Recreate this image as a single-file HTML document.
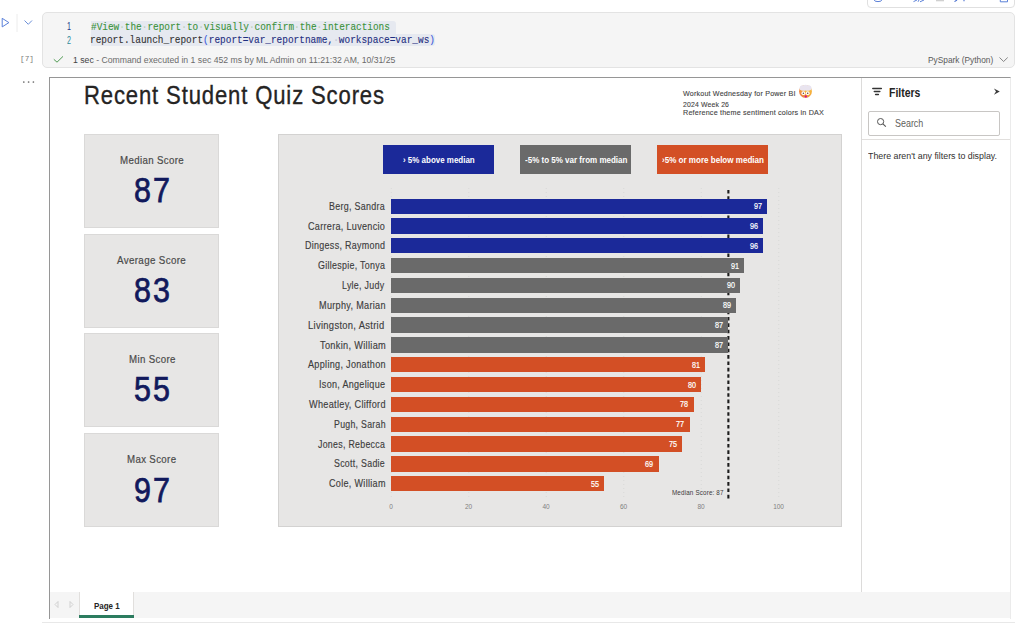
<!DOCTYPE html>
<html><head><meta charset="utf-8"><style>
html,body{margin:0;padding:0;width:1024px;height:627px;overflow:hidden;background:#fff;position:relative;font-family:'Liberation Sans', sans-serif;}
</style></head><body>
<div style="position:absolute;left:41.5px;top:11.5px;width:973.0px;height:56.5px;background:#f5f5f5;border:1px solid #e3e3e3;border-radius:5px;box-sizing:border-box;"></div>
<div style="position:absolute;left:866.5px;top:-10px;width:148.0px;height:18px;background:#fff;border:1px solid #e0e0e0;border-radius:4px;box-sizing:border-box;"></div>
<div style="position:absolute;left:90.75px;top:21.2px;width:304.75px;height:13.3px;background:#e6e9f0;border-radius:0 3px 0 0;"></div>
<div style="position:absolute;left:90.75px;top:34.4px;width:343.75px;height:12.100000000000001px;background:#e6e9f0;border-radius:0 3px 3px 0;"></div>
<svg style="position:absolute;left:0;top:0" width="60" height="100"><circle cx="23.8" cy="82" r="0.85" fill="#666"/><circle cx="28.6" cy="82" r="0.85" fill="#666"/><circle cx="33.4" cy="82" r="0.85" fill="#666"/></svg>
<div style="position:absolute;left:49px;top:77px;width:961.5px;height:541.5px;border:1px solid #969696;border-right-color:#ebebeb;border-bottom:none;box-sizing:border-box;background:#fff;"></div>
<div style="position:absolute;left:50px;top:592px;width:960px;height:26.200000000000045px;background:#f5f5f5;"></div>
<div style="position:absolute;left:78.75px;top:592px;width:55.349999999999994px;height:26.200000000000045px;background:#fff;border-left:1px solid #e1dfdd;border-right:1px solid #e1dfdd;box-sizing:border-box;"></div>
<div style="position:absolute;left:78.75px;top:615.1px;width:55.349999999999994px;height:3.1000000000000227px;background:#2c7c5f;"></div>
<div style="position:absolute;left:42px;top:622px;width:973px;height:1px;background:#e8e8e8;"></div>
<div style="position:absolute;left:84px;top:134px;width:134.5px;height:94.30000000000001px;background:#e7e6e5;border:1px solid #dad9d8;box-sizing:border-box;"></div>
<div style="position:absolute;left:84px;top:233.6px;width:134.5px;height:94.00000000000003px;background:#e7e6e5;border:1px solid #dad9d8;box-sizing:border-box;"></div>
<div style="position:absolute;left:84px;top:333px;width:134.5px;height:94.30000000000001px;background:#e7e6e5;border:1px solid #dad9d8;box-sizing:border-box;"></div>
<div style="position:absolute;left:84px;top:433.2px;width:134.5px;height:93.40000000000003px;background:#e7e6e5;border:1px solid #dad9d8;box-sizing:border-box;"></div>
<div style="position:absolute;left:278px;top:133.8px;width:563.6px;height:392.8px;background:#e7e6e5;border:1px solid #d3d2d1;box-sizing:border-box;"></div>
<div style="position:absolute;left:383px;top:144.8px;width:111px;height:29.099999999999994px;background:#1b2999;"></div>
<div style="position:absolute;left:520px;top:144.8px;width:111px;height:29.099999999999994px;background:#6a6a6a;"></div>
<div style="position:absolute;left:657px;top:144.8px;width:111px;height:29.099999999999994px;background:#d34f25;"></div>
<svg style="position:absolute;left:0;top:0" width="1024" height="627"><line x1="391.30" y1="188" x2="391.30" y2="500" stroke="#d6d5d4" stroke-width="0.8" stroke-dasharray="1 3"/></svg>
<svg style="position:absolute;left:0;top:0" width="1024" height="627"><line x1="468.79" y1="188" x2="468.79" y2="500" stroke="#d6d5d4" stroke-width="0.8" stroke-dasharray="1 3"/></svg>
<svg style="position:absolute;left:0;top:0" width="1024" height="627"><line x1="546.28" y1="188" x2="546.28" y2="500" stroke="#d6d5d4" stroke-width="0.8" stroke-dasharray="1 3"/></svg>
<svg style="position:absolute;left:0;top:0" width="1024" height="627"><line x1="623.77" y1="188" x2="623.77" y2="500" stroke="#d6d5d4" stroke-width="0.8" stroke-dasharray="1 3"/></svg>
<svg style="position:absolute;left:0;top:0" width="1024" height="627"><line x1="701.26" y1="188" x2="701.26" y2="500" stroke="#d6d5d4" stroke-width="0.8" stroke-dasharray="1 3"/></svg>
<svg style="position:absolute;left:0;top:0" width="1024" height="627"><line x1="778.75" y1="188" x2="778.75" y2="500" stroke="#d6d5d4" stroke-width="0.8" stroke-dasharray="1 3"/></svg>
<svg style="position:absolute;left:0;top:0" width="1024" height="627"><line x1="728.38" y1="190" x2="728.38" y2="498.5" stroke="#1c1c1c" stroke-width="2.1" stroke-dasharray="3.6 2.75"/></svg>
<div style="position:absolute;left:391.3px;top:198.5px;width:375.82650000000007px;height:15.300000000000011px;background:#1b2999;"></div>
<div style="position:absolute;left:391.3px;top:218.32999999999998px;width:371.95199999999994px;height:15.300000000000011px;background:#1b2999;"></div>
<div style="position:absolute;left:391.3px;top:238.16px;width:371.95199999999994px;height:15.300000000000011px;background:#1b2999;"></div>
<div style="position:absolute;left:391.3px;top:257.99px;width:352.5795px;height:15.300000000000011px;background:#6a6a6a;"></div>
<div style="position:absolute;left:391.3px;top:277.82px;width:348.705px;height:15.300000000000011px;background:#6a6a6a;"></div>
<div style="position:absolute;left:391.3px;top:297.65px;width:344.8305px;height:15.300000000000011px;background:#6a6a6a;"></div>
<div style="position:absolute;left:391.3px;top:317.48px;width:337.08149999999995px;height:15.300000000000011px;background:#6a6a6a;"></div>
<div style="position:absolute;left:391.3px;top:337.31px;width:337.08149999999995px;height:15.300000000000011px;background:#6a6a6a;"></div>
<div style="position:absolute;left:391.3px;top:357.14px;width:313.8345px;height:15.300000000000011px;background:#d34f25;"></div>
<div style="position:absolute;left:391.3px;top:376.96999999999997px;width:309.96px;height:15.300000000000011px;background:#d34f25;"></div>
<div style="position:absolute;left:391.3px;top:396.79999999999995px;width:302.21099999999996px;height:15.300000000000011px;background:#d34f25;"></div>
<div style="position:absolute;left:391.3px;top:416.63px;width:298.33650000000006px;height:15.300000000000011px;background:#d34f25;"></div>
<div style="position:absolute;left:391.3px;top:436.46px;width:290.58750000000003px;height:15.300000000000011px;background:#d34f25;"></div>
<div style="position:absolute;left:391.3px;top:456.28999999999996px;width:267.34049999999996px;height:15.300000000000011px;background:#d34f25;"></div>
<div style="position:absolute;left:391.3px;top:476.12px;width:213.09750000000003px;height:15.300000000000011px;background:#d34f25;"></div>
<div style="position:absolute;left:861px;top:78px;width:1.2999999999999545px;height:514px;background:#dcdbda;"></div>
<div style="position:absolute;left:868.2px;top:110.7px;width:131.79999999999995px;height:25.60000000000001px;border:1px solid #c8c6c4;border-radius:2px;box-sizing:border-box;background:#fff;"></div>
<div style="position:absolute;left:862px;top:139px;width:147.5px;height:1px;background:#e1dfdd;"></div>

<svg style="position:absolute;left:0;top:0" width="1024" height="627" viewBox="0 0 1024 627">
 <path d="M2.2 18.3 L8.9 22.6 L2.2 26.9 Z" fill="none" stroke="#5a80da" stroke-width="1" stroke-linejoin="round"/>
 <line x1="17" y1="14" x2="17" y2="32" stroke="#ececec" stroke-width="1"/>
 <path d="M24.5 20.5 L28.3 24.3 L32 20.5" fill="none" stroke="#6b8fd8" stroke-width="1"/>
 <path d="M53.8 59.3 L57 62.2 L63 56.4" fill="none" stroke="#4f9a52" stroke-width="1"/>
 <path d="M999.5 57.5 L1003.6 61.5 L1007.7 57.5" fill="none" stroke="#777" stroke-width="0.9"/>
 <!-- toolbar icon bottoms -->
 <path d="M874.3 0 Q874.3 1.6 878 1.6 Q881.7 1.6 881.7 0" fill="none" stroke="#5b80d8" stroke-width="1"/>
 <path d="M913.5 1.6 L917 0 M918 1.8 L919 0 M920 1.8 L924 0" fill="none" stroke="#5b80d8" stroke-width="1"/>
 <rect x="936" y="0" width="8" height="1.3" fill="#d0d0d0"/>
 <path d="M954.5 1.6 L957 0 M964 0 L964 1.2" fill="none" stroke="#4a70d0" stroke-width="1.1"/>
 <path d="M1000.3 0 L1000.3 1.8 L1007.5 1.8 L1007.5 0" fill="none" stroke="#5b80d8" stroke-width="1"/>
 <!-- filter icon -->
 <line x1="872.8" y1="88.6" x2="881.3" y2="88.6" stroke="#333" stroke-width="1.5" stroke-linecap="round"/>
 <line x1="874.3" y1="91.6" x2="879.8" y2="91.6" stroke="#333" stroke-width="1.5" stroke-linecap="round"/>
 <line x1="875.6" y1="94.5" x2="878.4" y2="94.5" stroke="#333" stroke-width="1.5" stroke-linecap="round"/>
 <!-- >> -->
 <path d="M993.9 88.6 L999.8 91.6 L993.9 94.7 L996 91.6 Z" fill="#3a3a3a"/>
 <!-- search icon -->
 <circle cx="880.6" cy="121.6" r="3.1" fill="none" stroke="#555" stroke-width="1"/>
 <line x1="882.9" y1="123.9" x2="885.8" y2="126.7" stroke="#555" stroke-width="1.1"/>
 <!-- tab arrows -->
 <path d="M58 601.5 L55 604.5 L58 607.5 Z" fill="none" stroke="#c8c8c8" stroke-width="0.8"/>
 <path d="M70 601.5 L73 604.5 L70 607.5 Z" fill="none" stroke="#c8c8c8" stroke-width="0.8"/>
 <!-- emoji -->
 <defs><radialGradient id="fg" cx="0.7" cy="0.3" r="0.8"><stop offset="0" stop-color="#f8c444"/><stop offset="0.6" stop-color="#f4a93a"/><stop offset="1" stop-color="#ec7a45"/></radialGradient></defs>
 <g>
  <circle cx="805.5" cy="91.4" r="6.4" fill="url(#fg)"/>
  <path d="M799.6 89.5 C799 86.5 801 85 803 85.3 C804.5 84.6 806.8 84.6 808 85.3 C810.2 85 812.2 86.6 811.5 89.5 C810 90.6 807.5 91.2 805.5 90.6 C803.5 91.2 801 90.6 799.6 89.5 Z" fill="#e9e4ef"/>
  <circle cx="803.4" cy="93.2" r="1.9" fill="#fff"/><circle cx="807.7" cy="93.2" r="1.9" fill="#fff"/>
  <circle cx="803.4" cy="93.3" r="0.8" fill="#6b4a3a"/><circle cx="807.7" cy="93.3" r="0.8" fill="#6b4a3a"/>
  <ellipse cx="805.8" cy="96.4" rx="1.1" ry="1.2" fill="#d0108a"/>
 </g>
</svg>

<span style="position:absolute;left:66.90px;top:22.20px;white-space:nowrap;font-family:'Liberation Sans', sans-serif;font-size:10px;font-weight:400;line-height:10px;color:#1d3a8a;transform:scaleX(0.7167);transform-origin:0 0;">1</span>
<span style="position:absolute;left:66.90px;top:35.60px;white-space:nowrap;font-family:'Liberation Sans', sans-serif;font-size:10px;font-weight:400;line-height:10px;color:#2f8a9a;transform:scaleX(0.7167);transform-origin:0 0;">2</span>
<span style="position:absolute;left:91.00px;top:23.00px;white-space:nowrap;font-family:'Liberation Mono', monospace;font-size:10px;font-weight:400;line-height:10px;color:#3a923a;transform:scaleX(0.9392);transform-origin:0 0;-webkit-text-stroke:0.1px currentColor;">#View<span style="color:#b9d2b9">·</span>the<span style="color:#b9d2b9">·</span>report<span style="color:#b9d2b9">·</span>to<span style="color:#b9d2b9">·</span>visually<span style="color:#b9d2b9">·</span>confirm<span style="color:#b9d2b9">·</span>the<span style="color:#b9d2b9">·</span>interactions</span>
<span style="position:absolute;left:90.06px;top:36.40px;white-space:nowrap;font-family:'Liberation Mono', monospace;font-size:10px;font-weight:400;line-height:10px;color:#333;transform:scaleX(0.9422);transform-origin:0 0;-webkit-text-stroke:0.1px currentColor;">report.launch_report<span style="color:#3b5bdb">(</span><span style="color:#1f2f80">report=var_reportname,<span style="color:#c3c8d6">·</span>workspace=var_ws</span><span style="color:#3b5bdb">)</span></span>
<span style="position:absolute;left:20.23px;top:55.40px;white-space:nowrap;font-family:'Liberation Mono', monospace;font-size:8px;font-weight:400;line-height:8px;color:#7a7a7a;transform:scaleX(0.9681);transform-origin:0 0;">[7]</span>
<span style="position:absolute;left:72.60px;top:55.00px;white-space:nowrap;font-family:'Liberation Sans', sans-serif;font-size:9.6px;font-weight:400;line-height:9.6px;color:#444;transform:scaleX(0.9037);transform-origin:0 0;">1 sec<span style="color:#6b6b6b"> - Command executed in 1 sec 452 ms by ML Admin on 11:21:32 AM, 10/31/25</span></span>
<span style="position:absolute;left:928.00px;top:55.00px;white-space:nowrap;font-family:'Liberation Sans', sans-serif;font-size:9.6px;font-weight:400;line-height:9.6px;color:#5a5a5a;transform:scaleX(0.8668);transform-origin:0 0;">PySpark (Python)</span>
<span style="position:absolute;left:94.00px;top:601.60px;white-space:nowrap;font-family:'Liberation Sans', sans-serif;font-size:9.3px;font-weight:700;line-height:9.3px;color:#252423;transform:scaleX(0.8556);transform-origin:0 0;">Page 1</span>
<span style="position:absolute;left:83.68px;top:83.20px;white-space:nowrap;font-family:'Liberation Sans', sans-serif;font-size:25.6px;font-weight:400;line-height:25.6px;color:#252423;letter-spacing:1.0px;transform:scaleX(0.8623);transform-origin:0 0;-webkit-text-stroke:0.35px #252423;">Recent Student Quiz Scores</span>
<span style="position:absolute;left:682.80px;top:90.10px;white-space:nowrap;font-family:'Liberation Sans', sans-serif;font-size:8px;font-weight:400;line-height:8px;color:#444;letter-spacing:0.2px;transform:scaleX(0.8920);transform-origin:0 0;-webkit-text-stroke:0.12px #444;">Workout Wednesday for Power BI</span>
<span style="position:absolute;left:682.80px;top:100.90px;white-space:nowrap;font-family:'Liberation Sans', sans-serif;font-size:8px;font-weight:400;line-height:8px;color:#444;letter-spacing:0.2px;transform:scaleX(0.8562);transform-origin:0 0;-webkit-text-stroke:0.12px #444;">2024 Week 26</span>
<span style="position:absolute;left:682.80px;top:109.30px;white-space:nowrap;font-family:'Liberation Sans', sans-serif;font-size:8px;font-weight:400;line-height:8px;color:#444;letter-spacing:0.2px;transform:scaleX(0.8994);transform-origin:0 0;-webkit-text-stroke:0.12px #444;">Reference theme sentiment colors in DAX</span>
<span style="position:absolute;left:120.00px;top:155.10px;white-space:nowrap;font-family:'Liberation Sans', sans-serif;font-size:11px;font-weight:400;line-height:11px;color:#4a4a4a;letter-spacing:0.4px;transform:scaleX(0.8801);transform-origin:0 0;-webkit-text-stroke:0.2px #4a4a4a;">Median Score</span>
<span style="position:absolute;left:133.92px;top:173.30px;white-space:nowrap;font-family:'Liberation Sans', sans-serif;font-size:34.5px;font-weight:400;line-height:34.5px;color:#11195c;transform:scaleX(0.8824);transform-origin:0 0;-webkit-text-stroke:0.75px #11195c;">8</span>
<span style="position:absolute;left:153.02px;top:173.30px;white-space:nowrap;font-family:'Liberation Sans', sans-serif;font-size:34.5px;font-weight:400;line-height:34.5px;color:#11195c;transform:scaleX(0.8824);transform-origin:0 0;-webkit-text-stroke:0.75px #11195c;">7</span>
<span style="position:absolute;left:117.30px;top:254.70px;white-space:nowrap;font-family:'Liberation Sans', sans-serif;font-size:11px;font-weight:400;line-height:11px;color:#4a4a4a;letter-spacing:0.4px;transform:scaleX(0.8894);transform-origin:0 0;-webkit-text-stroke:0.2px #4a4a4a;">Average Score</span>
<span style="position:absolute;left:133.92px;top:272.90px;white-space:nowrap;font-family:'Liberation Sans', sans-serif;font-size:34.5px;font-weight:400;line-height:34.5px;color:#11195c;transform:scaleX(0.8824);transform-origin:0 0;-webkit-text-stroke:0.75px #11195c;">8</span>
<span style="position:absolute;left:153.02px;top:272.90px;white-space:nowrap;font-family:'Liberation Sans', sans-serif;font-size:34.5px;font-weight:400;line-height:34.5px;color:#11195c;transform:scaleX(0.8824);transform-origin:0 0;-webkit-text-stroke:0.75px #11195c;">3</span>
<span style="position:absolute;left:128.50px;top:354.10px;white-space:nowrap;font-family:'Liberation Sans', sans-serif;font-size:11px;font-weight:400;line-height:11px;color:#4a4a4a;letter-spacing:0.4px;transform:scaleX(0.8803);transform-origin:0 0;-webkit-text-stroke:0.2px #4a4a4a;">Min Score</span>
<span style="position:absolute;left:133.92px;top:372.30px;white-space:nowrap;font-family:'Liberation Sans', sans-serif;font-size:34.5px;font-weight:400;line-height:34.5px;color:#11195c;transform:scaleX(0.8824);transform-origin:0 0;-webkit-text-stroke:0.75px #11195c;">5</span>
<span style="position:absolute;left:153.02px;top:372.30px;white-space:nowrap;font-family:'Liberation Sans', sans-serif;font-size:34.5px;font-weight:400;line-height:34.5px;color:#11195c;transform:scaleX(0.8824);transform-origin:0 0;-webkit-text-stroke:0.75px #11195c;">5</span>
<span style="position:absolute;left:127.10px;top:454.30px;white-space:nowrap;font-family:'Liberation Sans', sans-serif;font-size:11px;font-weight:400;line-height:11px;color:#4a4a4a;letter-spacing:0.4px;transform:scaleX(0.8786);transform-origin:0 0;-webkit-text-stroke:0.2px #4a4a4a;">Max Score</span>
<span style="position:absolute;left:133.92px;top:472.50px;white-space:nowrap;font-family:'Liberation Sans', sans-serif;font-size:34.5px;font-weight:400;line-height:34.5px;color:#11195c;transform:scaleX(0.8824);transform-origin:0 0;-webkit-text-stroke:0.75px #11195c;">9</span>
<span style="position:absolute;left:153.02px;top:472.50px;white-space:nowrap;font-family:'Liberation Sans', sans-serif;font-size:34.5px;font-weight:400;line-height:34.5px;color:#11195c;transform:scaleX(0.8824);transform-origin:0 0;-webkit-text-stroke:0.75px #11195c;">7</span>
<span style="position:absolute;left:403.30px;top:156.00px;white-space:nowrap;font-family:'Liberation Sans', sans-serif;font-size:9px;font-weight:700;line-height:9px;color:#fff;transform:scaleX(0.8854);transform-origin:0 0;">› 5% above median</span>
<span style="position:absolute;left:525.00px;top:156.00px;white-space:nowrap;font-family:'Liberation Sans', sans-serif;font-size:9px;font-weight:700;line-height:9px;color:#fff;transform:scaleX(0.8906);transform-origin:0 0;">-5% to 5% var from median</span>
<span style="position:absolute;left:662.00px;top:156.00px;white-space:nowrap;font-family:'Liberation Sans', sans-serif;font-size:9px;font-weight:700;line-height:9px;color:#fff;transform:scaleX(0.8941);transform-origin:0 0;">›5% or more below median</span>
<span style="position:absolute;left:389.30px;top:504.20px;white-space:nowrap;font-family:'Liberation Sans', sans-serif;font-size:6.5px;font-weight:400;line-height:6.5px;color:#808080;">0</span>
<span style="position:absolute;left:464.98px;top:504.20px;white-space:nowrap;font-family:'Liberation Sans', sans-serif;font-size:6.5px;font-weight:400;line-height:6.5px;color:#808080;">20</span>
<span style="position:absolute;left:542.47px;top:504.20px;white-space:nowrap;font-family:'Liberation Sans', sans-serif;font-size:6.5px;font-weight:400;line-height:6.5px;color:#808080;">40</span>
<span style="position:absolute;left:619.96px;top:504.20px;white-space:nowrap;font-family:'Liberation Sans', sans-serif;font-size:6.5px;font-weight:400;line-height:6.5px;color:#808080;">60</span>
<span style="position:absolute;left:697.45px;top:504.20px;white-space:nowrap;font-family:'Liberation Sans', sans-serif;font-size:6.5px;font-weight:400;line-height:6.5px;color:#808080;">80</span>
<span style="position:absolute;left:773.14px;top:504.20px;white-space:nowrap;font-family:'Liberation Sans', sans-serif;font-size:6.5px;font-weight:400;line-height:6.5px;color:#808080;">100</span>
<span style="position:absolute;left:329.30px;top:201.70px;white-space:nowrap;font-family:'Liberation Sans', sans-serif;font-size:10.3px;font-weight:400;line-height:10.3px;color:#3d3d3d;letter-spacing:0.35px;transform:scaleX(0.8642);transform-origin:0 0;-webkit-text-stroke:0.15px #3d3d3d;">Berg, Sandra</span>
<span style="position:absolute;left:753.83px;top:202.10px;white-space:nowrap;font-family:'Liberation Sans', sans-serif;font-size:8.4px;font-weight:400;line-height:8.4px;color:#fff;transform:scaleX(0.8594);transform-origin:0 0;-webkit-text-stroke:0.2px #fff;">97</span>
<span style="position:absolute;left:308.20px;top:221.53px;white-space:nowrap;font-family:'Liberation Sans', sans-serif;font-size:10.3px;font-weight:400;line-height:10.3px;color:#3d3d3d;letter-spacing:0.35px;transform:scaleX(0.8790);transform-origin:0 0;-webkit-text-stroke:0.15px #3d3d3d;">Carrera, Luvencio</span>
<span style="position:absolute;left:749.95px;top:221.93px;white-space:nowrap;font-family:'Liberation Sans', sans-serif;font-size:8.4px;font-weight:400;line-height:8.4px;color:#fff;transform:scaleX(0.8594);transform-origin:0 0;-webkit-text-stroke:0.2px #fff;">96</span>
<span style="position:absolute;left:305.00px;top:241.36px;white-space:nowrap;font-family:'Liberation Sans', sans-serif;font-size:10.3px;font-weight:400;line-height:10.3px;color:#3d3d3d;letter-spacing:0.35px;transform:scaleX(0.8680);transform-origin:0 0;-webkit-text-stroke:0.15px #3d3d3d;">Dingess, Raymond</span>
<span style="position:absolute;left:749.95px;top:241.76px;white-space:nowrap;font-family:'Liberation Sans', sans-serif;font-size:8.4px;font-weight:400;line-height:8.4px;color:#fff;transform:scaleX(0.8594);transform-origin:0 0;-webkit-text-stroke:0.2px #fff;">96</span>
<span style="position:absolute;left:318.00px;top:261.19px;white-space:nowrap;font-family:'Liberation Sans', sans-serif;font-size:10.3px;font-weight:400;line-height:10.3px;color:#3d3d3d;letter-spacing:0.35px;transform:scaleX(0.8605);transform-origin:0 0;-webkit-text-stroke:0.15px #3d3d3d;">Gillespie, Tonya</span>
<span style="position:absolute;left:730.58px;top:261.59px;white-space:nowrap;font-family:'Liberation Sans', sans-serif;font-size:8.4px;font-weight:400;line-height:8.4px;color:#fff;transform:scaleX(0.8594);transform-origin:0 0;-webkit-text-stroke:0.2px #fff;">91</span>
<span style="position:absolute;left:342.40px;top:281.02px;white-space:nowrap;font-family:'Liberation Sans', sans-serif;font-size:10.3px;font-weight:400;line-height:10.3px;color:#3d3d3d;letter-spacing:0.35px;transform:scaleX(0.8583);transform-origin:0 0;-webkit-text-stroke:0.15px #3d3d3d;">Lyle, Judy</span>
<span style="position:absolute;left:726.71px;top:281.42px;white-space:nowrap;font-family:'Liberation Sans', sans-serif;font-size:8.4px;font-weight:400;line-height:8.4px;color:#fff;transform:scaleX(0.8594);transform-origin:0 0;-webkit-text-stroke:0.2px #fff;">90</span>
<span style="position:absolute;left:318.60px;top:300.85px;white-space:nowrap;font-family:'Liberation Sans', sans-serif;font-size:10.3px;font-weight:400;line-height:10.3px;color:#3d3d3d;letter-spacing:0.35px;transform:scaleX(0.8824);transform-origin:0 0;-webkit-text-stroke:0.15px #3d3d3d;">Murphy, Marian</span>
<span style="position:absolute;left:722.83px;top:301.25px;white-space:nowrap;font-family:'Liberation Sans', sans-serif;font-size:8.4px;font-weight:400;line-height:8.4px;color:#fff;transform:scaleX(0.8594);transform-origin:0 0;-webkit-text-stroke:0.2px #fff;">89</span>
<span style="position:absolute;left:308.30px;top:320.68px;white-space:nowrap;font-family:'Liberation Sans', sans-serif;font-size:10.3px;font-weight:400;line-height:10.3px;color:#3d3d3d;letter-spacing:0.35px;transform:scaleX(0.9098);transform-origin:0 0;-webkit-text-stroke:0.15px #3d3d3d;">Livingston, Astrid</span>
<span style="position:absolute;left:715.08px;top:321.08px;white-space:nowrap;font-family:'Liberation Sans', sans-serif;font-size:8.4px;font-weight:400;line-height:8.4px;color:#fff;transform:scaleX(0.8594);transform-origin:0 0;-webkit-text-stroke:0.2px #fff;">87</span>
<span style="position:absolute;left:320.10px;top:340.51px;white-space:nowrap;font-family:'Liberation Sans', sans-serif;font-size:10.3px;font-weight:400;line-height:10.3px;color:#3d3d3d;letter-spacing:0.35px;transform:scaleX(0.8934);transform-origin:0 0;-webkit-text-stroke:0.15px #3d3d3d;">Tonkin, William</span>
<span style="position:absolute;left:715.08px;top:340.91px;white-space:nowrap;font-family:'Liberation Sans', sans-serif;font-size:8.4px;font-weight:400;line-height:8.4px;color:#fff;transform:scaleX(0.8594);transform-origin:0 0;-webkit-text-stroke:0.2px #fff;">87</span>
<span style="position:absolute;left:307.50px;top:360.34px;white-space:nowrap;font-family:'Liberation Sans', sans-serif;font-size:10.3px;font-weight:400;line-height:10.3px;color:#3d3d3d;letter-spacing:0.35px;transform:scaleX(0.8809);transform-origin:0 0;-webkit-text-stroke:0.15px #3d3d3d;">Appling, Jonathon</span>
<span style="position:absolute;left:691.83px;top:360.74px;white-space:nowrap;font-family:'Liberation Sans', sans-serif;font-size:8.4px;font-weight:400;line-height:8.4px;color:#fff;transform:scaleX(0.8594);transform-origin:0 0;-webkit-text-stroke:0.2px #fff;">81</span>
<span style="position:absolute;left:318.60px;top:380.17px;white-space:nowrap;font-family:'Liberation Sans', sans-serif;font-size:10.3px;font-weight:400;line-height:10.3px;color:#3d3d3d;letter-spacing:0.35px;transform:scaleX(0.8758);transform-origin:0 0;-webkit-text-stroke:0.15px #3d3d3d;">Ison, Angelique</span>
<span style="position:absolute;left:687.96px;top:380.57px;white-space:nowrap;font-family:'Liberation Sans', sans-serif;font-size:8.4px;font-weight:400;line-height:8.4px;color:#fff;transform:scaleX(0.8594);transform-origin:0 0;-webkit-text-stroke:0.2px #fff;">80</span>
<span style="position:absolute;left:308.60px;top:400.00px;white-space:nowrap;font-family:'Liberation Sans', sans-serif;font-size:10.3px;font-weight:400;line-height:10.3px;color:#3d3d3d;letter-spacing:0.35px;transform:scaleX(0.8864);transform-origin:0 0;-webkit-text-stroke:0.15px #3d3d3d;">Wheatley, Clifford</span>
<span style="position:absolute;left:680.21px;top:400.40px;white-space:nowrap;font-family:'Liberation Sans', sans-serif;font-size:8.4px;font-weight:400;line-height:8.4px;color:#fff;transform:scaleX(0.8594);transform-origin:0 0;-webkit-text-stroke:0.2px #fff;">78</span>
<span style="position:absolute;left:333.50px;top:419.83px;white-space:nowrap;font-family:'Liberation Sans', sans-serif;font-size:10.3px;font-weight:400;line-height:10.3px;color:#3d3d3d;letter-spacing:0.35px;transform:scaleX(0.8489);transform-origin:0 0;-webkit-text-stroke:0.15px #3d3d3d;">Pugh, Sarah</span>
<span style="position:absolute;left:676.34px;top:420.23px;white-space:nowrap;font-family:'Liberation Sans', sans-serif;font-size:8.4px;font-weight:400;line-height:8.4px;color:#fff;transform:scaleX(0.8594);transform-origin:0 0;-webkit-text-stroke:0.2px #fff;">77</span>
<span style="position:absolute;left:318.20px;top:439.66px;white-space:nowrap;font-family:'Liberation Sans', sans-serif;font-size:10.3px;font-weight:400;line-height:10.3px;color:#3d3d3d;letter-spacing:0.35px;transform:scaleX(0.8530);transform-origin:0 0;-webkit-text-stroke:0.15px #3d3d3d;">Jones, Rebecca</span>
<span style="position:absolute;left:668.59px;top:440.06px;white-space:nowrap;font-family:'Liberation Sans', sans-serif;font-size:8.4px;font-weight:400;line-height:8.4px;color:#fff;transform:scaleX(0.8594);transform-origin:0 0;-webkit-text-stroke:0.2px #fff;">75</span>
<span style="position:absolute;left:334.30px;top:459.49px;white-space:nowrap;font-family:'Liberation Sans', sans-serif;font-size:10.3px;font-weight:400;line-height:10.3px;color:#3d3d3d;letter-spacing:0.35px;transform:scaleX(0.8551);transform-origin:0 0;-webkit-text-stroke:0.15px #3d3d3d;">Scott, Sadie</span>
<span style="position:absolute;left:645.34px;top:459.89px;white-space:nowrap;font-family:'Liberation Sans', sans-serif;font-size:8.4px;font-weight:400;line-height:8.4px;color:#fff;transform:scaleX(0.8594);transform-origin:0 0;-webkit-text-stroke:0.2px #fff;">69</span>
<span style="position:absolute;left:329.30px;top:479.32px;white-space:nowrap;font-family:'Liberation Sans', sans-serif;font-size:10.3px;font-weight:400;line-height:10.3px;color:#3d3d3d;letter-spacing:0.35px;transform:scaleX(0.8792);transform-origin:0 0;-webkit-text-stroke:0.15px #3d3d3d;">Cole, William</span>
<span style="position:absolute;left:591.10px;top:479.72px;white-space:nowrap;font-family:'Liberation Sans', sans-serif;font-size:8.4px;font-weight:400;line-height:8.4px;color:#fff;transform:scaleX(0.8594);transform-origin:0 0;-webkit-text-stroke:0.2px #fff;">55</span>
<span style="position:absolute;left:671.70px;top:489.40px;white-space:nowrap;font-family:'Liberation Sans', sans-serif;font-size:7.6px;font-weight:400;line-height:7.6px;color:#3a3a3a;letter-spacing:0.2px;transform:scaleX(0.8235);transform-origin:0 0;">Median Score: 87</span>
<span style="position:absolute;left:888.90px;top:86.80px;white-space:nowrap;font-family:'Liberation Sans', sans-serif;font-size:12.5px;font-weight:700;line-height:12.5px;color:#252423;transform:scaleX(0.8360);transform-origin:0 0;">Filters</span>
<span style="position:absolute;left:894.60px;top:118.20px;white-space:nowrap;font-family:'Liberation Sans', sans-serif;font-size:10.6px;font-weight:400;line-height:10.6px;color:#605e5c;transform:scaleX(0.8434);transform-origin:0 0;">Search</span>
<span style="position:absolute;left:868.20px;top:151.40px;white-space:nowrap;font-family:'Liberation Sans', sans-serif;font-size:9.6px;font-weight:400;line-height:9.6px;color:#323130;transform:scaleX(0.9196);transform-origin:0 0;">There aren&#x27;t any filters to display.</span>
</body></html>
